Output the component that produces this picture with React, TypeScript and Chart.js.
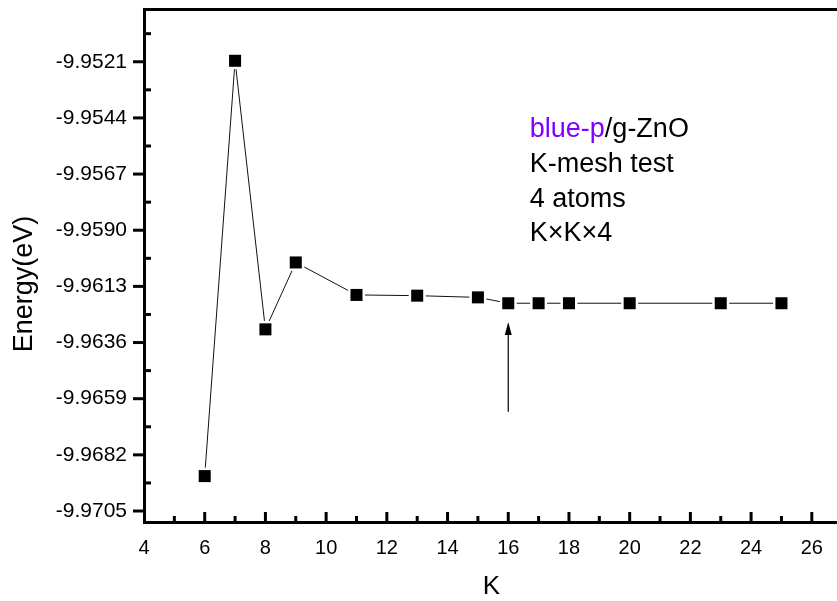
import React, { useEffect, useRef } from "react";
import { Chart, registerables } from "chart.js";

Chart.register(...registerables);

const kValues = [6, 7, 8, 9, 11, 13, 15, 16, 17, 18, 20, 23, 25];
const energies = [
  -9.96907, -9.95206, -9.96306, -9.96032, -9.96165, -9.96168, -9.96175,
  -9.96199, -9.96199, -9.96199, -9.96199, -9.96199, -9.96199,
];
const yMajorTicks = [
  -9.9521, -9.9544, -9.9567, -9.959, -9.9613, -9.9636, -9.9659, -9.9682, -9.9705,
];
const yMinorTicks = [
  -9.95095, -9.95325, -9.95555, -9.95785, -9.96015, -9.96245, -9.96475, -9.96705, -9.96935,
];
const xMajorTicks = [4, 6, 8, 10, 12, 14, 16, 18, 20, 22, 24, 26];
const xMinorTicks = [5, 7, 9, 11, 13, 15, 17, 19, 21, 23, 25];
const xTitle = "K";
const yTitle = "Energy(eV)";
const noteLines = ["K-mesh test", "4 atoms", "K×K×4"];
const noteFirstPurple = "blue-p";
const noteFirstBlack = "/g-ZnO";
const arrowK = 16;
const arrowFrom = -9.96643;
const arrowTo = -9.96276;

const X_MIN = 4;
const X_MAX = 26.83;
const Y_MIN = -9.97095;
const Y_MAX = -9.94998;

const FONT = "'Liberation Sans', Arial, sans-serif";

export default function App() {
  const ref = useRef<HTMLCanvasElement | null>(null);

  useEffect(() => {
    const canvas = ref.current;
    if (!canvas) return;
    const points = kValues.map((k, i) => ({ x: k, y: energies[i] }));

    const decor = {
      id: "decor",
      afterDraw(chart: any) {
        const { ctx, chartArea } = chart;
        const xs = chart.scales.x;
        const ys = chart.scales.y;
        const L = chartArea.left, R = chartArea.right, T = chartArea.top, B = chartArea.bottom;
        ctx.save();
        ctx.strokeStyle = "#000";
        ctx.fillStyle = "#000";
        ctx.lineCap = "butt";
        // axes
        ctx.lineWidth = 3;
        ctx.beginPath();
        ctx.moveTo(L + 0.5, T - 1.5);
        ctx.lineTo(L + 0.5, B + 1.5);
        ctx.moveTo(L - 1, B + 0.5);
        ctx.lineTo(R + 2, B + 0.5);
        ctx.moveTo(L - 1, T - 0.5);
        ctx.lineTo(R + 2, T - 0.5);
        ctx.stroke();
        // y ticks
        yMajorTicks.forEach((v) => {
          const y = ys.getPixelForValue(v);
          ctx.beginPath();
          ctx.moveTo(L - 11, y);
          ctx.lineTo(L, y);
          ctx.stroke();
        });
        yMinorTicks.forEach((v) => {
          const y = ys.getPixelForValue(v);
          ctx.beginPath();
          ctx.moveTo(L, y);
          ctx.lineTo(L + 7, y);
          ctx.stroke();
        });
        // x ticks (inward)
        xMajorTicks.forEach((v) => {
          if (v === xMajorTicks[0]) return;
          const x = xs.getPixelForValue(v);
          ctx.beginPath();
          ctx.moveTo(x, B);
          ctx.lineTo(x, B - 10);
          ctx.stroke();
        });
        xMinorTicks.forEach((v) => {
          const x = xs.getPixelForValue(v);
          ctx.beginPath();
          ctx.moveTo(x, B);
          ctx.lineTo(x, B - 6);
          ctx.stroke();
        });
        // arrow
        const ax = xs.getPixelForValue(arrowK);
        const ay0 = ys.getPixelForValue(arrowFrom);
        const ay1 = ys.getPixelForValue(arrowTo);
        ctx.lineWidth = 1.2;
        ctx.beginPath();
        ctx.moveTo(ax, ay0);
        ctx.lineTo(ax, ay1 + 10);
        ctx.stroke();
        ctx.beginPath();
        ctx.moveTo(ax, ay1);
        ctx.lineTo(ax - 3.5, ay1 + 13);
        ctx.lineTo(ax + 3.5, ay1 + 13);
        ctx.closePath();
        ctx.fill();
        // titles
        ctx.font = `26px ${FONT}`;
        ctx.textAlign = "center";
        ctx.textBaseline = "alphabetic";
        ctx.fillText(xTitle, (L + R) / 2 + 1, 594);
        ctx.save();
        ctx.translate(32, 284);
        ctx.rotate(-Math.PI / 2);
        ctx.font = `27px ${FONT}`;
        ctx.fillText(yTitle, 0, 0);
        ctx.restore();
        // note
        const nx = xs.getPixelForValue(16.71);
        const ny = ys.getPixelForValue(-9.95518);
        ctx.font = `27px ${FONT}`;
        ctx.textAlign = "left";
        ctx.fillStyle = "#7f00ff";
        ctx.fillText(noteFirstPurple, nx, ny);
        const w = ctx.measureText(noteFirstPurple).width;
        ctx.fillStyle = "#000";
        ctx.fillText(noteFirstBlack, nx + w, ny);
        noteLines.forEach((t, i) => {
          ctx.fillText(t, nx, ny + 34.8 * (i + 1));
        });
        ctx.restore();
      },
    };

    const zeroPad = (s: any) => {
      s.paddingTop = 0;
      s.paddingBottom = 0;
      s.paddingLeft = 0;
      s.paddingRight = 0;
    };

    const chart = new Chart(canvas, {
      type: "scatter",
      data: {
        datasets: [
          {
            data: points,
            pointStyle: "rect",
            pointRadius: 8.5,
            pointBackgroundColor: "#000",
            pointBorderWidth: 0,
            showLine: false,
            order: 0,
          },
          {
            data: points,
            pointStyle: "rect",
            pointRadius: 12,
            pointBackgroundColor: "#fff",
            pointBorderWidth: 0,
            showLine: false,
            order: 1,
          },
          {
            data: points,
            pointRadius: 0,
            showLine: true,
            borderColor: "#111",
            borderWidth: 1,
            order: 2,
          },
        ],
      },
      options: {
        animation: false,
        responsive: false,
        devicePixelRatio: 1,
        layout: { padding: { left: 0, right: 0, top: 10, bottom: 0 }, autoPadding: false },
        plugins: { legend: { display: false }, tooltip: { enabled: false } },
        scales: {
          x: {
            type: "linear",
            bounds: "data",
            min: X_MIN,
            max: X_MAX,
            afterFit: (s: any) => {
              s.height = 79;
              zeroPad(s);
            },
            afterBuildTicks: (s: any) => {
              s.ticks = xMajorTicks.map((v) => ({ value: v }));
              s.min = X_MIN;
              s.max = X_MAX;
            },
            grid: { display: false, drawTicks: false },
            border: { display: false },
            ticks: {
              autoSkip: false,
              maxRotation: 0,
              padding: 14,
              color: "#000",
              font: { family: FONT, size: 20 },
              callback: (v: any) => String(v),
            },
          },
          y: {
            type: "linear",
            bounds: "data",
            min: Y_MIN,
            max: Y_MAX,
            afterFit: (s: any) => {
              s.width = 144;
              zeroPad(s);
            },
            afterBuildTicks: (s: any) => {
              s.ticks = yMajorTicks.map((v) => ({ value: v }));
              s.min = Y_MIN;
              s.max = Y_MAX;
            },
            grid: { display: false, drawTicks: false },
            border: { display: false },
            ticks: {
              autoSkip: false,
              padding: 17,
              color: "#000",
              font: { family: FONT, size: 21 },
              callback: (v: any) => Number(v).toFixed(4),
            },
          },
        },
      },
      plugins: [decor],
    });
    return () => chart.destroy();
  }, []);

  return (
    <canvas
      ref={ref}
      width={837}
      height={601}
      style={{ position: "fixed", left: 0, top: 0, width: 837, height: 601, background: "#fff" }}
    />
  );
}
